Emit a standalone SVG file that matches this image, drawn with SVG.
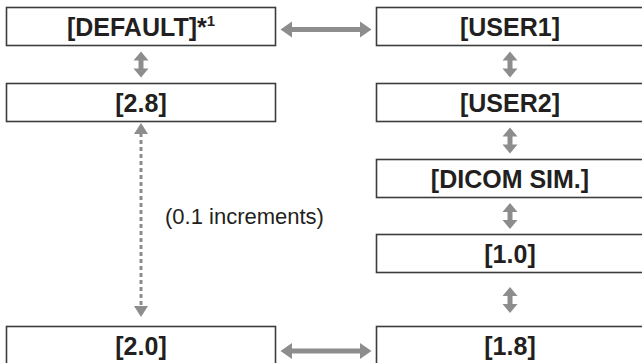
<svg xmlns="http://www.w3.org/2000/svg" width="642" height="363" viewBox="0 0 642 363">
<style>
.box{fill:#fff;stroke:#3c3c3c;stroke-width:1.6}
.lbl{font-family:"Liberation Sans",Arial,sans-serif;font-weight:bold;font-size:25px;fill:#231f20;text-anchor:middle}
.note{font-family:"Liberation Sans",Arial,sans-serif;font-size:22px;fill:#231f20}
.arr{fill:#8d8d8d}
</style>
<defs>
<path id="varr" d="M0,-13 L7.5,-4 L2.5,-4 L2.5,4 L7.5,4 L0,13 L-7.5,4 L-2.5,4 L-2.5,-4 L-7.5,-4 Z"/>
<path id="harr" d="M-45.5,0 L-34,-8 L-34,-2.5 L34,-2.5 L34,-8 L45.5,0 L34,8 L34,2.5 L-34,2.5 L-34,8 Z"/>
</defs>
<g id="n-default"><rect class="box" x="6.5" y="7.5" width="269" height="38"/><text class="lbl" x="141" y="35.5">[DEFAULT]*<tspan font-size="15" dy="-10">1</tspan></text></g>
<g id="n-28"><rect class="box" x="6.5" y="83.5" width="269" height="38"/><text class="lbl" x="141" y="111.5">[2.8]</text></g>
<g id="n-20"><rect class="box" x="6.5" y="326.5" width="269" height="40"/><text class="lbl" x="141" y="354.5">[2.0]</text></g>
<g id="n-user1"><rect class="box" x="376.5" y="7.5" width="270" height="38"/><text class="lbl" x="510" y="35.5">[USER1]</text></g>
<g id="n-user2"><rect class="box" x="376.5" y="83.5" width="270" height="38"/><text class="lbl" x="510" y="111.5">[USER2]</text></g>
<g id="n-dicom"><rect class="box" x="376.5" y="159.5" width="270" height="38"/><text class="lbl" x="510" y="187.5">[DICOM SIM.]</text></g>
<g id="n-10"><rect class="box" x="376.5" y="234.5" width="270" height="38"/><text class="lbl" x="510" y="262.5">[1.0]</text></g>
<g id="n-18"><rect class="box" x="376.5" y="326.5" width="270" height="40"/><text class="lbl" x="510" y="354.5">[1.8]</text></g>
<g id="connectors">
<use href="#harr" class="arr" x="326" y="29.5"/>
<use href="#harr" class="arr" x="326" y="351"/>
<use href="#varr" class="arr" x="141" y="64.5"/>
<use href="#varr" class="arr" x="510" y="64.5"/>
<use href="#varr" class="arr" x="510" y="140.5"/>
<use href="#varr" class="arr" x="510" y="216"/>
<use href="#varr" class="arr" x="510" y="300"/>
<line x1="141" y1="133" x2="141" y2="308" stroke="#8d8d8d" stroke-width="3" stroke-dasharray="4,3"/>
<path class="arr" d="M141,123 L148,134 L134,134 Z"/>
<path class="arr" d="M141,317 L148,306 L134,306 Z"/>
<text class="note" x="165" y="224">(0.1 increments)</text>
</g>
</svg>
